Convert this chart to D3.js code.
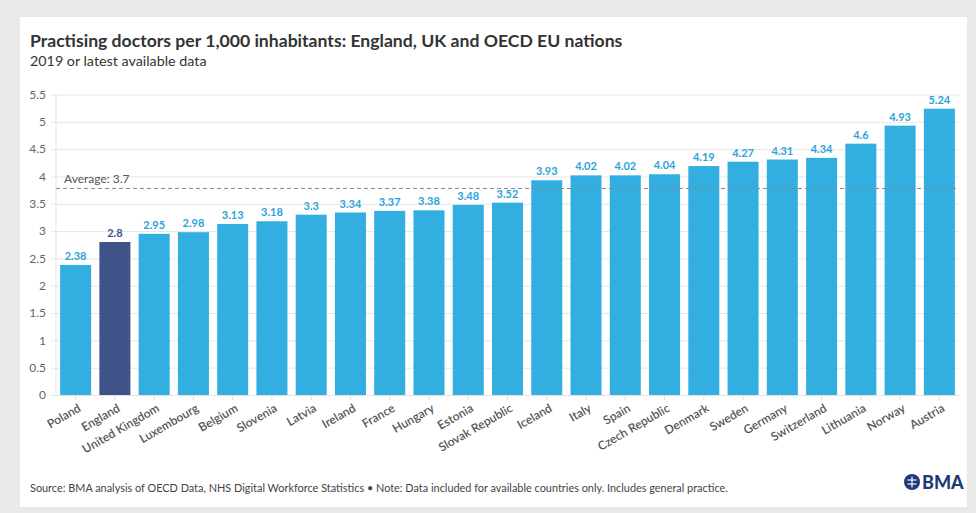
<!DOCTYPE html>
<html><head><meta charset="utf-8">
<script src="https://cdn.jsdelivr.net/npm/d3@7"></script>
<style>body{margin:0;background:#e9e9e9;}svg{display:block;}</style>
</head><body>
<svg id="c" width="976" height="513"></svg>
<script>
const categories = ["Poland","England","United Kingdom","Luxembourg","Belgium","Slovenia","Latvia","Ireland","France","Hungary","Estonia","Slovak Republic","Iceland","Italy","Spain","Czech Republic","Denmark","Sweden","Germany","Switzerland","Lithuania","Norway","Austria"];
const values = [2.38,2.8,2.95,2.98,3.13,3.18,3.3,3.34,3.37,3.38,3.48,3.52,3.93,4.02,4.02,4.04,4.19,4.27,4.31,4.34,4.6,4.93,5.24];
const yTicks = [0,0.5,1,1.5,2,2.5,3,3.5,4,4.5,5,5.5];
const averageValue = 3.78;
const averageLabel = "Average: 3.7";
const highlight = "England";

const svg = d3.select("#c");
const FONT = "Lato, 'Open Sans', sans-serif";
svg.append("rect").attr("x",0).attr("y",0).attr("width",976).attr("height",513).attr("fill","#e9e9e9");
svg.append("rect").attr("x",20).attr("y",17).attr("width",947).attr("height",490).attr("fill","#ffffff");

svg.append("text").attr("x",30).attr("y",47).attr("font-family",FONT).attr("font-weight",700)
  .attr("font-size",17.6).attr("fill","#333").text("Practising doctors per 1,000 inhabitants: England, UK and OECD EU nations");
svg.append("text").attr("x",30).attr("y",66).attr("font-family",FONT)
  .attr("font-size",14.3).attr("fill","#333").text("2019 or latest available data");

const pLeft = 56, pRight = 959, pTop = 94.5, pBottom = 395;
const x = d3.scaleBand().domain(categories).range([pLeft,pRight]).paddingInner(0.21).paddingOuter(0.105);
const y = d3.scaleLinear().domain([0,5.5]).range([pBottom,pTop]);

// gridlines / y axis
const yAxis = d3.axisLeft(y).tickValues(yTicks).tickFormat(d3.format("~g")).tickSize(-(pRight-pLeft+5)).tickPadding(5);
const gy = svg.append("g").attr("transform",`translate(${pLeft-5},0)`).call(yAxis);
gy.select(".domain").remove();
gy.selectAll(".tick line").attr("stroke","#e6e6e6");
gy.selectAll(".tick text").attr("font-family",FONT).attr("font-size",12).attr("fill","#666");
svg.append("line").attr("x1",pLeft).attr("x2",pLeft).attr("y1",pTop).attr("y2",pBottom).attr("stroke","#e3e3e3");

// bars
svg.append("g").selectAll("rect").data(categories).join("rect")
  .attr("x",d=>x(d)).attr("width",x.bandwidth())
  .attr("y",(d,i)=>y(values[i])).attr("height",(d,i)=>pBottom-y(values[i]))
  .attr("fill",d=>d===highlight?"#3f5388":"#33aee1");

// value labels
svg.append("g").selectAll("text").data(categories).join("text")
  .attr("x",d=>x(d)+x.bandwidth()/2).attr("y",(d,i)=>y(values[i])-5)
  .attr("text-anchor","middle").attr("font-family",FONT).attr("font-weight",700).attr("font-size",11)
  .attr("fill",d=>d===highlight?"#3f5388":"#2aa3d9").text((d,i)=>values[i]);

// x axis
const xAxis = d3.axisBottom(x).tickSize(5).tickSizeOuter(0).tickPadding(3);
const gx = svg.append("g").attr("transform",`translate(0,${pBottom})`).call(xAxis);
gx.select(".domain").attr("stroke","#e3e3e3");
gx.selectAll(".tick line").attr("stroke","#e0e0e0");
gx.selectAll(".tick text").attr("font-family",FONT).attr("font-size",12).attr("font-weight",600).attr("fill","#555")
  .attr("text-anchor","end").attr("transform","translate(0,5) rotate(-30)").attr("dy","0.35em");

// average line
svg.append("line").attr("x1",pLeft).attr("x2",pRight).attr("y1",y(averageValue)).attr("y2",y(averageValue))
  .attr("stroke","#888").attr("stroke-dasharray","4,3").attr("stroke-width",1);
svg.append("text").attr("x",64).attr("y",y(averageValue)-5).attr("font-family",FONT).attr("font-size",12)
  .attr("fill","#555").text(averageLabel);

// footer
svg.append("text").attr("x",30).attr("y",492).attr("font-family",FONT).attr("font-size",10.9).attr("fill","#444")
  .text("Source: BMA analysis of OECD Data, NHS Digital Workforce Statistics \u2022 Note: Data included for available countries only. Includes general practice.");

// logo
const logo = svg.append("g").attr("transform","translate(912,482)");
logo.append("circle").attr("r",8).attr("fill","#1f3a7a");
logo.append("line").attr("x1",-4.5).attr("x2",4.5).attr("y1",-2).attr("y2",-2).attr("stroke","#fff").attr("stroke-width",1.2);
logo.append("line").attr("x1",-4.5).attr("x2",4.5).attr("y1",2).attr("y2",2).attr("stroke","#fff").attr("stroke-width",1.2);
logo.append("line").attr("x1",0).attr("x2",0).attr("y1",-5.5).attr("y2",5.5).attr("stroke","#fff").attr("stroke-width",1.2);
svg.append("text").attr("x",922).attr("y",489).attr("font-family",FONT).attr("font-weight",900).attr("font-size",18)
  .attr("fill","#1f3a7a").text("BMA");
</script>
</body></html>
